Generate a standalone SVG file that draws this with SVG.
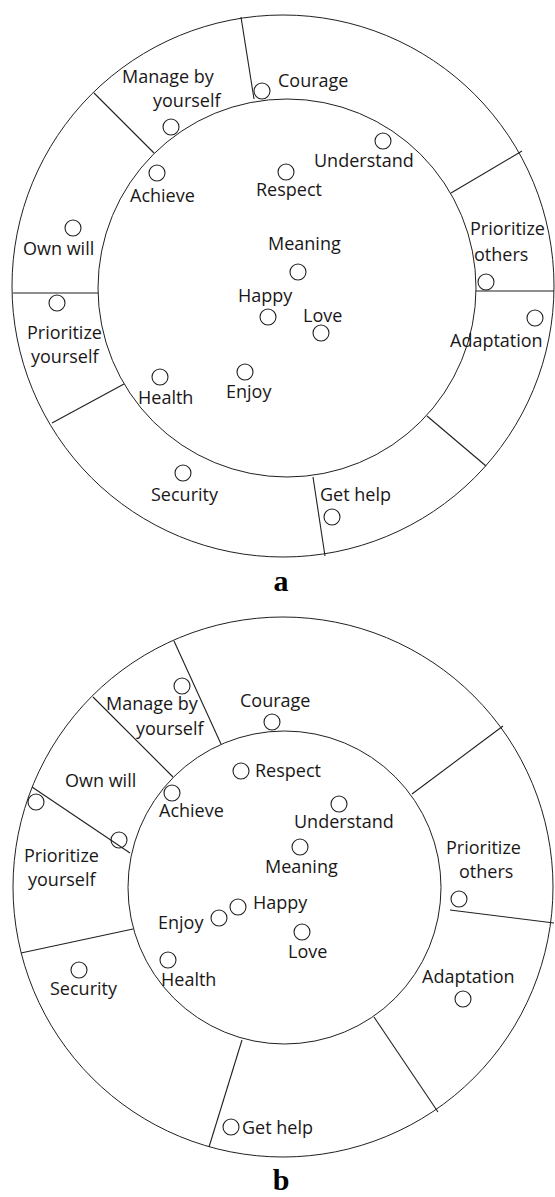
<svg xmlns="http://www.w3.org/2000/svg" width="555" height="1197" viewBox="0 0 555 1197">
<style>
.ring{fill:none;stroke:#231f20;stroke-width:1}
.div{stroke:#231f20;stroke-width:1.1;fill:none}
.pt{fill:none;stroke:#231f20;stroke-width:1.1}
.lbl{font-family:"Open Sans","Noto Sans",sans-serif;font-size:18px;fill:#1a1718}
.cap{font-family:"Liberation Serif",serif;font-weight:bold;font-size:30px;fill:#000;text-anchor:middle}
</style>
<rect width="555" height="1197" fill="#fff"/>
<!-- Diagram a -->
<g id="diagram-a">
<circle class="ring" cx="283" cy="286" r="271"/>
<circle class="ring" cx="287" cy="288" r="189"/>
<g id="dividers-a">
<line class="div" x1="241" y1="17" x2="254" y2="99"/>
<line class="div" x1="94" y1="93" x2="154" y2="153"/>
<line class="div" x1="13" y1="293" x2="98" y2="293"/>
<line class="div" x1="52" y1="423" x2="124" y2="384"/>
<line class="div" x1="313" y1="477" x2="325" y2="556"/>
<line class="div" x1="427" y1="416" x2="486" y2="466"/>
<line class="div" x1="476" y1="291" x2="554" y2="291"/>
<line class="div" x1="522" y1="151" x2="451" y2="193"/>
</g>
<g id="a-manage"><text class="lbl" x="122" y="83">Manage by</text><text class="lbl" x="153" y="107">yourself</text><circle class="pt" cx="171" cy="127" r="8"/></g>
<g id="a-courage"><text class="lbl" x="278" y="87">Courage</text><circle class="pt" cx="262" cy="91" r="8"/></g>
<g id="a-understand"><text class="lbl" x="314" y="167">Understand</text><circle class="pt" cx="383" cy="141" r="8"/></g>
<g id="a-respect"><text class="lbl" x="256" y="196">Respect</text><circle class="pt" cx="286" cy="172" r="8"/></g>
<g id="a-achieve"><text class="lbl" x="130" y="202">Achieve</text><circle class="pt" cx="157" cy="173" r="8"/></g>
<g id="a-ownwill"><text class="lbl" x="23" y="255">Own will</text><circle class="pt" cx="73" cy="228" r="8"/></g>
<g id="a-meaning"><text class="lbl" x="268" y="250">Meaning</text><circle class="pt" cx="298" cy="272" r="8"/></g>
<g id="a-happy"><text class="lbl" x="238" y="302">Happy</text><circle class="pt" cx="268" cy="317" r="8"/></g>
<g id="a-love"><text class="lbl" x="303" y="322">Love</text><circle class="pt" cx="321" cy="333" r="8"/></g>
<g id="a-priothers"><text class="lbl" x="470" y="235">Prioritize</text><text class="lbl" x="474" y="261">others</text><circle class="pt" cx="486" cy="282" r="8"/></g>
<g id="a-adaptation"><text class="lbl" x="450" y="347">Adaptation</text><circle class="pt" cx="535" cy="318" r="8"/></g>
<g id="a-gethelp"><text class="lbl" x="320" y="501">Get help</text><circle class="pt" cx="332" cy="517" r="8"/></g>
<g id="a-security"><text class="lbl" x="151" y="501">Security</text><circle class="pt" cx="183" cy="473" r="8"/></g>
<g id="a-health"><text class="lbl" x="138" y="404">Health</text><circle class="pt" cx="160" cy="377" r="8"/></g>
<g id="a-enjoy"><text class="lbl" x="226" y="398">Enjoy</text><circle class="pt" cx="245" cy="372" r="8"/></g>
<g id="a-prioyourself"><text class="lbl" x="27" y="339">Prioritize</text><text class="lbl" x="31" y="363">yourself</text><circle class="pt" cx="57" cy="303" r="8"/></g>
<text class="cap" x="281" y="591">a</text>
</g>
<!-- Diagram b -->
<g id="diagram-b">
<circle class="ring" cx="283" cy="887" r="270"/>
<circle class="ring" cx="284.5" cy="887.5" r="156.5"/>
<g id="dividers-b">
<line class="div" x1="174" y1="641" x2="221" y2="744"/>
<line class="div" x1="93" y1="697" x2="173" y2="777"/>
<line class="div" x1="32" y1="787" x2="130" y2="853"/>
<line class="div" x1="21" y1="953" x2="133" y2="929"/>
<line class="div" x1="242" y1="1040" x2="209" y2="1147"/>
<line class="div" x1="374" y1="1017" x2="438" y2="1112"/>
<line class="div" x1="450" y1="910" x2="554" y2="923"/>
<line class="div" x1="412" y1="794" x2="503" y2="726"/>
</g>
<g id="b-manage"><text class="lbl" x="106" y="710">Manage by</text><text class="lbl" x="136" y="735">yourself</text><circle class="pt" cx="182" cy="686" r="8"/></g>
<g id="b-courage"><text class="lbl" x="240" y="707">Courage</text><circle class="pt" cx="272" cy="722" r="8"/></g>
<g id="b-respect"><text class="lbl" x="255" y="777">Respect</text><circle class="pt" cx="241" cy="771" r="8"/></g>
<g id="b-understand"><text class="lbl" x="294" y="828">Understand</text><circle class="pt" cx="339" cy="804" r="8"/></g>
<g id="b-meaning"><text class="lbl" x="265" y="873">Meaning</text><circle class="pt" cx="300" cy="847" r="8"/></g>
<g id="b-achieve"><text class="lbl" x="159" y="817">Achieve</text><circle class="pt" cx="172" cy="793" r="8"/></g>
<g id="b-ownwill"><text class="lbl" x="65" y="787">Own will</text><circle class="pt" cx="119" cy="840" r="8"/></g>
<g id="b-prioyourself"><text class="lbl" x="24" y="862">Prioritize</text><text class="lbl" x="28" y="886">yourself</text><circle class="pt" cx="36" cy="802" r="8"/></g>
<g id="b-priothers"><text class="lbl" x="446" y="854">Prioritize</text><text class="lbl" x="459" y="878">others</text><circle class="pt" cx="459" cy="899" r="8"/></g>
<g id="b-happy"><text class="lbl" x="253" y="909">Happy</text><circle class="pt" cx="238" cy="907" r="8"/></g>
<g id="b-enjoy"><text class="lbl" x="158" y="929">Enjoy</text><circle class="pt" cx="219" cy="918" r="8"/></g>
<g id="b-health"><text class="lbl" x="161" y="986">Health</text><circle class="pt" cx="168" cy="960" r="8"/></g>
<g id="b-love"><text class="lbl" x="288" y="958">Love</text><circle class="pt" cx="302" cy="932" r="8"/></g>
<g id="b-security"><text class="lbl" x="50" y="995">Security</text><circle class="pt" cx="79" cy="970" r="8"/></g>
<g id="b-adaptation"><text class="lbl" x="422" y="983">Adaptation</text><circle class="pt" cx="463" cy="999" r="8"/></g>
<g id="b-gethelp"><text class="lbl" x="242" y="1134">Get help</text><circle class="pt" cx="231" cy="1127" r="8"/></g>
<text class="cap" x="281" y="1190">b</text>
</g>
</svg>
